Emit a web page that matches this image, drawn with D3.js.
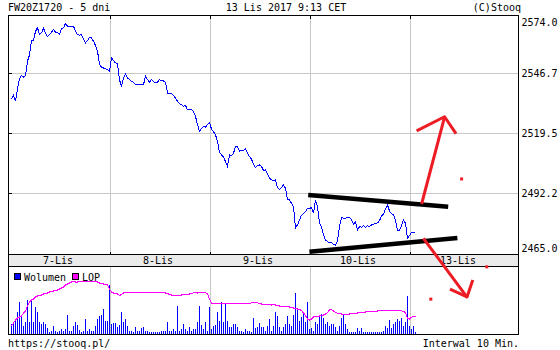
<!DOCTYPE html>
<html>
<head>
<meta charset="utf-8">
<script src="https://cdn.jsdelivr.net/npm/d3@7"></script>
<style>
  body { margin: 0; background: #fff; }
  svg text { font-family: "DejaVu Sans Mono", monospace; font-size: 10px; fill: #000; }
</style>
</head>
<body>
<div id="chart"></div>
<script>
const title = 'FW20Z1720 - 5 dni';
const stamp = '13 Lis 2017 9:13 CET';
const days = ['7-Lis', '8-Lis', '9-Lis', '10-Lis', '13-Lis'];
const priceTicks = [2574.0, 2546.7, 2519.5, 2492.2, 2465.0];

// one value per 10 min bar, 50 bars per session
const price = [
  2535.2, 2536.9, 2534.0, 2539.8, 2544.2, 2545.9, 2545.0, 2545.9, 2552.3, 2555.1,
  2561.7, 2561.7, 2565.9, 2567.5, 2564.4, 2565.2, 2567.2, 2565.2, 2563.5, 2564.3,
  2565.5, 2566.7, 2565.5, 2565.3, 2564.7, 2566.9, 2567.5, 2569.4, 2568.2, 2568.1,
  2568.2, 2568.2, 2565.9, 2564.4, 2564.1, 2564.4, 2562.4, 2560.6, 2561.7, 2563.2,
  2562.9, 2561.4, 2559.4, 2556.8, 2551.0, 2549.5, 2549.2, 2548.9, 2548.5, 2547.7,
  2553.9, 2552.6, 2551.5, 2551.2, 2543.9, 2540.7, 2544.7, 2546.6, 2544.7, 2543.9,
  2543.1, 2542.7, 2541.6, 2541.6, 2541.6, 2541.6, 2541.6, 2545.4, 2543.9, 2542.7,
  2543.9, 2543.1, 2542.4, 2542.7, 2543.9, 2543.4, 2543.3, 2542.7, 2537.8, 2537.8,
  2537.7, 2536.6, 2535.5, 2534.0, 2532.9, 2532.5, 2531.7, 2532.2, 2530.2, 2530.5,
  2530.5, 2529.4, 2527.2, 2523.4, 2520.3, 2521.8, 2522.6, 2522.2, 2523.4, 2524.4,
  2521.4, 2520.2, 2518.8, 2515.8, 2510.9, 2509.7, 2508.6, 2506.6, 2504.4, 2509.7,
  2509.2, 2510.4, 2513.5, 2513.5, 2511.2, 2511.7, 2511.7, 2512.3, 2510.4, 2508.9,
  2507.7, 2505.4, 2503.9, 2504.7, 2505.1, 2504.4, 2502.5, 2502.8, 2501.0, 2499.0,
  2498.3, 2498.0, 2498.3, 2494.8, 2494.0, 2494.8, 2496.0, 2494.5, 2489.2, 2489.2,
  2487.6, 2486.1, 2476.5, 2477.8, 2480.0, 2482.2, 2482.9, 2483.8, 2485.4, 2485.2,
  2485.7, 2483.1, 2489.2, 2486.1, 2478.5, 2476.9, 2473.2, 2470.9, 2470.2, 2469.7,
  2469.7, 2468.9, 2468.6, 2470.5, 2477.0, 2481.1, 2480.8, 2480.8, 2481.3, 2481.1,
  2480.3, 2478.1, 2479.3, 2475.5, 2477.0, 2476.7, 2477.5, 2476.5, 2477.5, 2477.0,
  2477.8, 2478.1, 2478.5, 2478.7, 2479.7, 2482.0, 2482.6, 2485.1, 2486.9, 2484.1,
  2482.9, 2482.3, 2480.0, 2475.3, 2475.2, 2477.5, 2480.0, 2478.5, 2471.7, 2472.9,
  2474.3, 2474.3, 2474.7
];
const volume = [
  10, 10, 13, 22, 32, 18, 8, 12, 34, 12, 34, 12, 27, 22, 12, 10, 12, 10, 6, 2,
  3, 8, 3, 2, 3, 5, 3, 5, 19, 3, 3, 8, 12, 9, 4, 2, 3, 15, 3, 5,
  3, 3, 8, 15, 18, 19, 25, 13, 13, 49,
  10, 11, 11, 7, 9, 22, 12, 15, 8, 3, 3, 2, 7, 3, 3, 6, 7, 3, 3, 2,
  2, 2, 2, 2, 2, 3, 3, 3, 12, 3, 3, 5, 3, 28, 3, 5, 10, 5, 3, 7,
  3, 5, 5, 12, 28, 9, 5, 12, 3, 27,
  5, 8, 9, 22, 13, 32, 12, 30, 13, 7, 7, 10, 10, 7, 3, 3, 2, 5, 3, 3,
  2, 16, 6, 7, 11, 7, 7, 3, 8, 15, 3, 8, 22, 18, 7, 3, 7, 10, 18, 10,
  8, 19, 41, 25, 13, 17, 20, 12, 32, 5,
  6, 3, 12, 10, 18, 20, 16, 10, 12, 8, 10, 10, 7, 3, 8, 16, 20, 10, 5, 2,
  2, 2, 2, 6, 3, 6, 2, 2, 2, 2, 2, 2, 2, 2, 2, 2, 3, 8, 6, 14,
  6, 10, 12, 15, 13, 16, 8, 12, 38, 8,
  5, 8, 2
];
const lop = [
  8, 11, 14, 16, 17, 18, 21, 23, 28, 32, 34, 35, 37, 38, 39, 39, 40, 41, 41, 42,
  43, 43, 44, 44, 45, 46, 47, 49, 50, 51, 52, 52.5, 52, 52, 52.5, 52.5, 52.5, 52.5, 53, 53,
  53, 53, 52.5, 52, 51, 50.5, 50, 50, 49, 45,
  42, 41, 40.5, 40, 38.5, 39.5, 41, 41.5, 41.5, 41.7, 41.7, 41.7, 41.7, 41.7, 41.7, 41.7, 41.7, 41.7, 41.7, 41.7,
  41.7, 41.7, 41.7, 41.7, 41.7, 41.7, 41.7, 41, 40.5, 39.5, 39, 38.5, 38.5, 38.5, 39, 39, 39.5, 39.5, 40, 40,
  40.5, 41.3, 41.3, 41, 41.3, 41.5, 41.5, 41.5, 40, 35,
  31, 30.5, 30.5, 30.5, 30.5, 30.5, 30.5, 30.5, 30.5, 30.5, 30.5, 30.5, 30.5, 30.5, 30.5, 30.5, 30.5, 30.5, 30.5, 30.5,
  31.3, 31.3, 31.3, 31.3, 30.5, 30, 29.5, 29.5, 29.5, 29.5, 29, 29.5, 29, 28.5, 28, 28, 28, 28, 27.5, 27,
  26.5, 26, 25.5, 25, 24.5, 23.5, 21, 18.5, 15, 14,
  15, 17, 17.5, 18, 18, 18.5, 19, 20, 21.5, 24.3, 24.5, 23, 21.8, 20.5, 20.2, 20, 20, 20, 20, 20,
  20.5, 20.5, 21, 21, 21.5, 21.5, 22, 22, 22.5, 22.5, 22.5, 23, 23, 23, 23.3, 23.3, 23.3, 23.3, 23.3, 23.5,
  23.5, 23.5, 23.5, 23.5, 23.3, 23, 22.7, 21, 16, 15,
  16.8, 17.5, 18
];

// hand drawn marks, in (bar index, price) units
const trendTop = [[148.6, 2491.4], [218.6, 2486.1]];
const trendBottom = [[149.2, 2465.6], [223.2, 2471.8]];
const arrowUp = [[205.3, 2487.3], [216.8, 2527.0]];
const arrowUpHead = [[202.8, 2520.6], [216.8, 2527.0], [222.5, 2519.3]];
const arrowDown = [[206.2, 2471.7], [228.2, 2444.7]];
const arrowDownHead = [[219.5, 2448.6], [228.0, 2445.0], [230.9, 2452.7]];
const redDots = [[225.3, 2498.7], [237.9, 2458.7], [209.9, 2444.0]];

const width = 560;
const height = 350;
const frame = { left: 8.5, right: 518.5, top: 15.5, bottom: 254.5, band: 266.5, vol: 334.5 };

const svg = d3.select('#chart').append('svg')
  .attr('width', width)
  .attr('height', height)
  .attr('viewBox', [0, 0, width, height]);
svg.append('rect').attr('width', width).attr('height', height).attr('fill', '#fff');

const xScale = d3.scaleLinear().domain([0, 202]).range([11, 415]);
const yScale = d3.scaleLinear().domain([2465, 2574]).range([253, 13.5]);
const vScale = d3.scaleLinear().domain([0, 67]).range([334, 267]);
const dayScale = d3.scaleBand().domain(days).range([xScale(-1.5), xScale(248.5)]);
const boundaries = days.slice(1).map((d, i) => Math.round(xScale(50 * (i + 1) - 0.5)) + 0.5);

// grid
const grid = svg.append('g').attr('stroke', '#c8c8c8').attr('shape-rendering', 'crispEdges');
grid.selectAll('.hgrid')
  .data(priceTicks.slice(1, -1))
  .join('line').attr('class', 'hgrid')
  .attr('x1', frame.left).attr('x2', frame.right)
  .attr('y1', d => Math.round(yScale(d)) + 0.5)
  .attr('y2', d => Math.round(yScale(d)) + 0.5);
grid.selectAll('.vgrid')
  .data(boundaries)
  .join('line').attr('class', 'vgrid')
  .attr('x1', d => d).attr('x2', d => d)
  .attr('y1', frame.top).attr('y2', frame.bottom);
grid.selectAll('.vgrid2')
  .data(boundaries)
  .join('line').attr('class', 'vgrid2')
  .attr('x1', d => d).attr('x2', d => d)
  .attr('y1', frame.band).attr('y2', frame.vol);

// day band
svg.append('rect')
  .attr('x', frame.left).attr('y', frame.bottom)
  .attr('width', frame.right - frame.left).attr('height', frame.band - frame.bottom)
  .attr('fill', '#ebebeb').attr('stroke', '#000').attr('shape-rendering', 'crispEdges');
const dayAxisG = svg.append('g')
  .attr('transform', 'translate(0,264)')
  .call(d3.axisBottom(dayScale).tickSize(0));
dayAxisG.select('.domain').remove();
dayAxisG.selectAll('text').attr('y', 0).attr('dy', null)
  .attr('font-family', null).attr('font-size', null);

// volume + LOP
svg.append('g')
  .attr('stroke', '#0000ff')
  .attr('stroke-width', 1)
  .attr('shape-rendering', 'crispEdges')
  .selectAll('line')
  .data(volume)
  .join('line')
  .attr('x1', (d, i) => xScale(i) + 0.5)
  .attr('x2', (d, i) => xScale(i) + 0.5)
  .attr('y1', vScale(0))
  .attr('y2', d => vScale(d));
svg.append('path')
  .datum(lop)
  .attr('fill', 'none')
  .attr('stroke', '#ff00ff')
  .attr('stroke-width', 1)
  .attr('shape-rendering', 'crispEdges')
  .attr('d', d3.line().x((d, i) => xScale(i) + 0.5).y(d => vScale(d)));

// price
svg.append('path')
  .datum(price)
  .attr('fill', 'none')
  .attr('stroke', '#0000ff')
  .attr('stroke-width', 1)
  .attr('shape-rendering', 'crispEdges')
  .attr('d', d3.line().x((d, i) => xScale(i) + 0.5).y(d => yScale(d)));

// frames and ticks
const frameG = svg.append('g').attr('stroke', '#000').attr('fill', 'none').attr('shape-rendering', 'crispEdges');
frameG.append('path')
  .attr('d', `M${frame.left},${frame.vol}V${frame.top}H${frame.right}V${frame.vol}H${frame.left}`);
frameG.selectAll('.ttick')
  .data(boundaries)
  .join('path').attr('class', 'ttick')
  .attr('d', d => `M${d},${frame.top}v3M${d},${frame.bottom}v-3`);
frameG.selectAll('.ltick')
  .data(priceTicks.slice(1, -1))
  .join('path').attr('class', 'ltick')
  .attr('d', d => `M${frame.left},${Math.round(yScale(d)) + 0.5}h3`);

// price axis labels
const yAxisG = svg.append('g')
  .attr('transform', `translate(${frame.right},0)`)
  .call(d3.axisRight(yScale).tickValues(priceTicks).tickSize(0).tickPadding(3).tickFormat(d3.format('.1f')));
yAxisG.select('.domain').remove();
yAxisG.selectAll('text')
  .attr('font-family', null).attr('font-size', null)
  .attr('dy', (d, i) => i === 0 ? '1.15em' : i === priceTicks.length - 1 ? '-0.15em' : '0.35em');

// legend
const legend = [{ name: 'Wolumen', color: '#0000ff', x: 14.5 }, { name: 'LOP', color: '#ff00ff', x: 72.5 }];
const legendG = svg.append('g').selectAll('g').data(legend).join('g');
legendG.append('rect')
  .attr('x', d => d.x).attr('y', 273.5)
  .attr('width', 6).attr('height', 6)
  .attr('fill', d => d.color).attr('stroke', '#000').attr('shape-rendering', 'crispEdges');
legendG.append('text')
  .attr('x', d => d.x + 9.5).attr('y', 280.5)
  .text(d => d.name);

// header / footer
svg.append('text').attr('x', 8).attr('y', 11).text(title);
svg.append('text').attr('x', 286).attr('y', 11).attr('text-anchor', 'middle').text(stamp);
svg.append('text').attr('x', 521).attr('y', 11).attr('text-anchor', 'end').text('(C)Stooq');
svg.append('text').attr('x', 8).attr('y', 346.5).text('https://stooq.pl/');
svg.append('text').attr('x', 519).attr('y', 346.5).attr('text-anchor', 'end').text('Interwal 10 Min.');

// hand drawn annotations
const pt = d3.line().x(d => xScale(d[0])).y(d => yScale(d[1]));
const notes = svg.append('g').attr('fill', 'none');
[trendTop, trendBottom].forEach(seg => {
  notes.append('path').attr('d', pt(seg))
    .attr('stroke', '#000').attr('stroke-width', 4.5);
});
[arrowUp, arrowUpHead, arrowDown, arrowDownHead].forEach(seg => {
  notes.append('path').attr('d', pt(seg))
    .attr('stroke', '#ed1c24').attr('stroke-width', 3)
    .attr('stroke-linejoin', 'round');
});
notes.selectAll('.dot')
  .data(redDots)
  .join('rect').attr('class', 'dot')
  .attr('x', d => xScale(d[0]) - 1.5)
  .attr('y', d => yScale(d[1]) - 1.5)
  .attr('width', 3).attr('height', 3)
  .attr('fill', '#ed1c24');
</script>
</body>
</html>
